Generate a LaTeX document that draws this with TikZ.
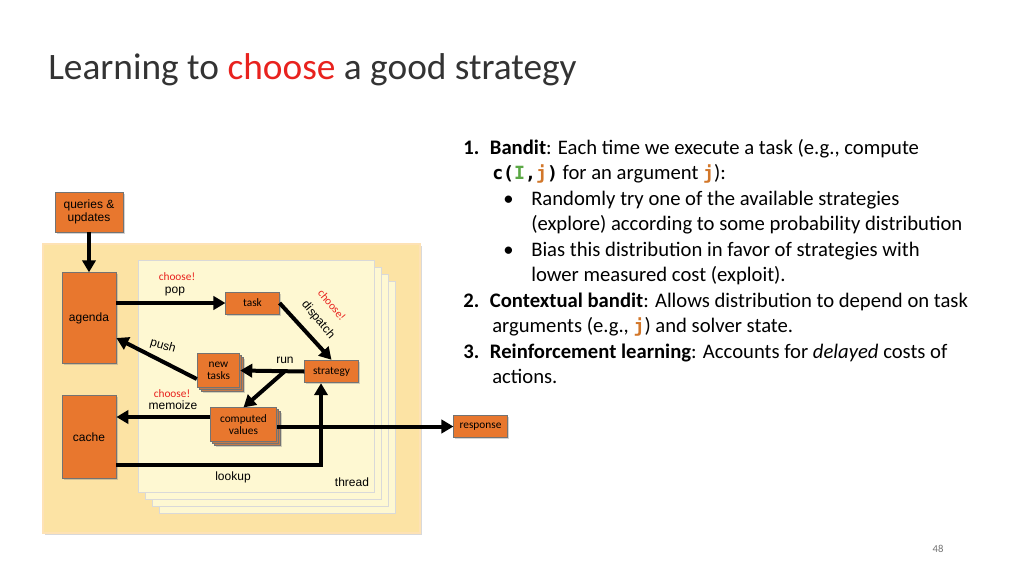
\documentclass[tikz,border=0pt]{standalone}
\usepackage{fontspec}
\setmainfont{Carlito}
\newfontfamily\arial{Liberation Sans}
\newfontfamily\mono[Scale=0.88]{DejaVu Sans Mono}
\usetikzlibrary{arrows.meta,shadows}
\definecolor{boxor}{HTML}{E8772E}
\definecolor{panel}{HTML}{FCE3A4}
\definecolor{thr}{HTML}{FEF8D2}
\definecolor{cred}{HTML}{E8221E}
\definecolor{cgreen}{HTML}{5BA845}
\definecolor{corange}{HTML}{D2772A}
\begin{document}
\begin{tikzpicture}[x=0.75pt,y=-0.75pt,
  obox/.style={draw=black!55,fill=boxor,line width=0.6pt,drop shadow={shadow xshift=1.2pt,shadow yshift=-1.2pt,opacity=0.35},inner sep=0pt},
  arr/.style={line width=3pt,-{Triangle[length=9pt,width=10pt]}},
  lab/.style={font=\arial\fontsize{9}{10}\selectfont},
  slab/.style={font=\fontsize{8.5}{9}\selectfont},
  red/.style={font=\fontsize{8.5}{9}\selectfont,text=cred},
  txt/.style={anchor=base west,font=\fontsize{15.5}{18}\selectfont,inner sep=0pt}]
\useasboundingbox (0,0) rectangle (1024,576);
\node[anchor=base west,inner sep=0pt,text=black!80,font=\fontsize{28}{32}\selectfont] (title) at (48,79) {Learning to \textcolor{cred}{choose} a good strategy};
% panel
\fill[panel,draw=panel!80!orange!60,line width=1pt,drop shadow={shadow xshift=1.5pt,shadow yshift=-1.5pt,opacity=0.3}] (43,244) rectangle (420,533);
\foreach \d in {21,14,7}{
  \fill[thr,draw=black!15,drop shadow={shadow xshift=1pt,shadow yshift=-1pt,opacity=0.25}] (138+\d,260+\d) rectangle (374+\d,492+\d);}
\fill[thr,draw=black!15,drop shadow={shadow xshift=1pt,shadow yshift=-1pt,opacity=0.25}] (138,260) rectangle (374,492);
% boxes
\node[obox,minimum width=51pt,minimum height=30pt,lab,align=center] (qu) at (89,212) {queries \&\\updates};
\node[obox,minimum width=40.5pt,minimum height=68pt,lab] (agenda) at (89,318) {agenda};
\node[obox,minimum width=40.5pt,minimum height=62pt,lab] (cache) at (89,437) {cache};
\node[obox,minimum width=40pt,minimum height=16.5pt,slab] (task) at (252.5,303) {task};
\node[obox,minimum width=40pt,minimum height=17pt,slab] (strat) at (331.5,371.5) {strategy};
\foreach \d in {4,2}{\node[obox,minimum width=32pt,minimum height=26pt] at (218.5+\d,370.5+\d) {};}
\node[obox,minimum width=32pt,minimum height=26pt,slab,align=center] (newt) at (218.5,370.5) {new\\tasks};
\foreach \d in {4,2}{\node[obox,minimum width=50pt,minimum height=25pt] at (243.5+\d,424.5+\d) {};}
\node[obox,minimum width=50pt,minimum height=25pt,slab,align=center] (comp) at (243.5,424.5) {computed\\values};
\node[obox,minimum width=40pt,minimum height=17pt,slab] (resp) at (480.5,426.5) {response};
% arrows
\draw[arr] (qu.south) -- (agenda.north);
\draw[arr] (agenda.east |- task.west) -- (task.west);
\draw[arr] (task.east) -- (strat.north);
\coordinate (j) at (285,371);
\draw[arr] (strat.west) -- (newt.east);
\draw[arr] (j) -- (comp.north);
\draw[arr] (newt.west |- 0,379) -- (agenda.east |- 0,338);
\draw[arr] (comp.west |- 0,417) -- (cache.east |- 0,417);
\coordinate (lk) at (321,465);
\draw[arr] (cache.east |- lk) -- (lk) -- (strat.south -| lk);
\draw[arr] (comp.east |- resp.west) -- (resp.west);
% labels
\node[red] (c1) at (177,277) {choose!};
\node[lab] (pop) at (175,292) {pop};
\node[red,rotate=-50,inner sep=0pt] (c2) at (332,305) {choose!};
\node[lab,rotate=-50,inner sep=0pt] (disp) at (318,320) {dispatch};
\node[lab] (run) at (285,360) {run};
\node[lab,rotate=-16] (push) at (163,346) {push};
\node[red] (c3) at (172,394) {choose!};
\node[lab] (memo) at (173,405) {memoize};
\node[lab] (look) at (233,477) {lookup};
\node[lab] (thread) at (352,482) {thread};
% text
\node[txt] (l1) at (463,154) {\textbf{1.}\hspace{8pt}\textbf{Bandit}: Each time we execute a task (e.g., compute};
\node[txt] (l2) at (492,179.5) {{\mono\bfseries c(\textcolor{cgreen}{I},\textcolor{corange}{j})} for an argument {\mono\bfseries\textcolor{corange}{j}}):};
\node[txt] (b1) at (503,205) {•};
\node[txt] (l3) at (531,205) {Randomly try one of the available strategies};
\node[txt] (l4) at (531,230.5) {(explore) according to some probability distribution};
\node[txt] (b2) at (503,256) {•};
\node[txt] (l5) at (531,256) {Bias this distribution in favor of strategies with};
\node[txt] (l6) at (531,281.5) {lower measured cost (exploit).};
\node[txt] (l7) at (463,307) {\textbf{2.}\hspace{8pt}\textbf{Contextual bandit}: Allows distribution to depend on task};
\node[txt] (l8) at (492,332.5) {arguments (e.g., {\mono\bfseries\textcolor{corange}{j}}) and solver state.};
\node[txt] (l9) at (463,358) {\textbf{3.}\hspace{8pt}\textbf{Reinforcement learning}: Accounts for \textit{delayed} costs of};
\node[txt] (l10) at (492,383.5) {actions.};
\node[text=black!55,font=\fontsize{8}{9}\selectfont] (pg) at (938,549) {48};
\end{tikzpicture}
\end{document}
